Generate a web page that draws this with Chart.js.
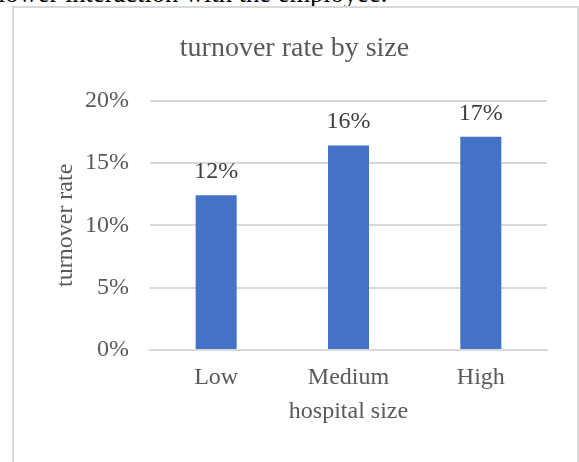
<!DOCTYPE html>
<html>
<head>
<meta charset="utf-8">
<script src="https://cdn.jsdelivr.net/npm/chart.js@4/dist/chart.umd.min.js"></script>
<style>
    html, body { margin: 0; padding: 0; background: #fff; }
    body { width: 579px; height: 462px; position: relative; overflow: hidden; }
    #docText {
        position: absolute; left: -2px; top: -20px;
        font-family: "Liberation Serif", "Times New Roman", serif;
        font-size: 26.5px; line-height: 26px; color: #000; white-space: nowrap;
    }
    #frame {
        position: absolute; left: 12px; top: 6px; width: 563px; height: 470px;
        border: 2px solid #d9d9d9; background: #fff;
    }
    #chartBox { position: absolute; left: 0; top: 0; width: 579px; height: 462px; }
</style>
</head>
<body>
<div id="docText">lower interaction with the employee.</div>
<div id="frame"></div>
<div id="chartBox"><canvas id="sizeChart" width="579" height="462"></canvas></div>
<script>
const categories = ["Low", "Medium", "High"];
const turnoverRates = [0.124, 0.164, 0.171];
const yTicks = [0, 0.05, 0.10, 0.15, 0.20];

const serif = "'Liberation Serif', 'Times New Roman', serif";
const pct = (v) => Math.round(v * 100) + "%";

// value labels above each bar
const barLabels = {
    id: "barLabels",
    afterDatasetsDraw(chart) {
        const ctx = chart.ctx;
        const meta = chart.getDatasetMeta(0);
        ctx.save();
        ctx.font = "24px " + serif;
        ctx.fillStyle = "#404040";
        ctx.textAlign = "center";
        ctx.textBaseline = "alphabetic";
        meta.data.forEach((bar, i) => {
            ctx.fillText(pct(turnoverRates[i]), bar.x, bar.y - 17);
        });
        ctx.restore();
    }
};

const chart = new Chart(document.getElementById("sizeChart").getContext("2d"), {
    type: "bar",
    data: {
        labels: categories,
        datasets: [{
            data: turnoverRates,
            backgroundColor: "#4472c4",
            borderWidth: 0,
            barPercentage: 1,
            categoryPercentage: 0.31
        }]
    },
    options: {
        responsive: false,
        animation: false,
        layout: { padding: { left: 42, right: 32, top: 10, bottom: 36 } },
        plugins: {
            legend: { display: false },
            tooltip: { enabled: false },
            title: {
                display: true,
                text: "turnover rate by size",
                color: "#595959",
                font: { family: serif, size: 28, weight: "normal" },
                padding: { top: 22, bottom: 35 }
            }
        },
        scales: {
            x: {
                afterFit: (scale) => { scale.height = 76; },
                grid: { display: false, drawTicks: false },
                border: { display: true, color: "#d9d9d9", width: 2 },
                ticks: {
                    color: "#595959",
                    padding: 13,
                    font: { family: serif, size: 24 }
                },
                title: {
                    display: true,
                    text: "hospital size",
                    color: "#595959",
                    font: { family: serif, size: 24 },
                    padding: { top: 6, bottom: 0 }
                }
            },
            y: {
                min: 0,
                max: 0.2,
                afterBuildTicks: (scale) => {
                    scale.ticks = yTicks.map((v) => ({ value: v }));
                },
                afterFit: (scale) => { scale.width = 108; },
                grid: { color: "#d9d9d9", lineWidth: 2, drawTicks: false },
                border: { display: false },
                ticks: {
                    color: "#595959",
                    padding: 21,
                    font: { family: serif, size: 24 },
                    callback: (v) => pct(v)
                },
                title: {
                    display: true,
                    text: "turnover rate",
                    color: "#595959",
                    font: { family: serif, size: 24 },
                    padding: { top: 9, bottom: 0 }
                }
            }
        }
    },
    plugins: [barLabels]
});
</script>
</body>
</html>
